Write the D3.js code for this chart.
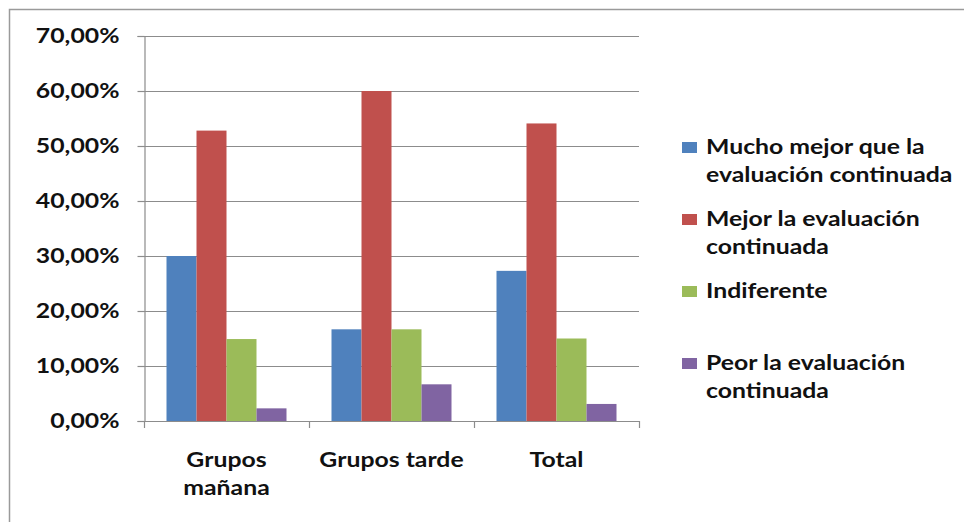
<!DOCTYPE html>
<html>
<head>
<meta charset="utf-8">
<script src="https://cdn.jsdelivr.net/npm/d3@7"></script>
<style>
  html, body { margin: 0; padding: 0; background: #ffffff; }
  svg { display: block; }
  text { font-family: Lato, "Open Sans", sans-serif; font-weight: bold; fill: #111111; }
</style>
</head>
<body>
<svg id="chart" width="964" height="522"></svg>
<script>
// Categories along the x axis
const categories = ["Grupos mañana", "Grupos tarde", "Total"];

// Series names (legend entries)
const seriesNames = [
  "Mucho mejor que la evaluación continuada",
  "Mejor la evaluación continuada",
  "Indiferente",
  "Peor la evaluación continuada"
];

// Values per series, one per category (fractions)
const muchoMejor = [0.300, 0.1667, 0.273];
const mejor      = [0.528, 0.600, 0.541];
const indiferente = [0.149, 0.1667, 0.150];
const peor       = [0.023, 0.0667, 0.031];

// Y axis tick values
const yTicks = [0, 0.1, 0.2, 0.3, 0.4, 0.5, 0.6, 0.7];

const seriesValues = [muchoMejor, mejor, indiferente, peor];
const colors = ["#4F81BD", "#C0504D", "#9BBB59", "#8064A2"];

// Horizontal widening applied to all text (wide, Calibri-like lettering)
const SX = 1.24;
const FONT_SIZE = 20;

const svg = d3.select("#chart");

// Outer chart frame (continues past the right and bottom edges)
svg.append("rect")
  .attr("x", 9.5).attr("y", 9.5)
  .attr("width", 1000).attr("height", 600)
  .attr("fill", "none").attr("stroke", "#9a9a9a").attr("stroke-width", 1.5);

const plot = { left: 144, right: 639, top: 36, bottom: 421 };

const y = d3.scaleLinear().domain([0, 0.7]).range([plot.bottom, plot.top]);
const x0 = d3.scaleBand().domain(categories).range([plot.left, plot.right]).padding(0);
// Bar gap of 150% of a bar width shared between both sides of each group
const gap = x0.bandwidth() * 1.5 / 5.5;
const x1 = d3.scaleBand().domain(d3.range(seriesNames.length))
  .range([gap / 2, x0.bandwidth() - gap / 2]).padding(0);

const locale = d3.formatLocale({ decimal: ",", thousands: ".", grouping: [3], currency: ["", "€"] });
const pct = locale.format(".2%");

// Horizontal gridlines
svg.append("g")
  .selectAll("line")
  .data(yTicks.slice(1))
  .join("line")
  .attr("x1", plot.left).attr("x2", plot.right)
  .attr("y1", d => Math.round(y(d)) + 0.5).attr("y2", d => Math.round(y(d)) + 0.5)
  .attr("stroke", "#8c8c8c").attr("stroke-width", 1.2);

// Bars
const groups = svg.append("g")
  .selectAll("g")
  .data(categories)
  .join("g")
  .attr("transform", d => `translate(${x0(d)},0)`);

groups.selectAll("rect")
  .data((d, ci) => seriesValues.map((vals, si) => ({ si, v: vals[ci] })))
  .join("rect")
  .attr("x", d => x1(d.si))
  .attr("width", x1.bandwidth())
  .attr("y", d => y(d.v))
  .attr("height", d => y(0) - y(d.v))
  .attr("fill", d => colors[d.si]);

// Y axis
const yAxis = svg.append("g")
  .attr("transform", `translate(${plot.left + 0.5},0)`)
  .call(d3.axisLeft(y).tickValues(yTicks).tickFormat(pct).tickSize(7).tickPadding(25));
yAxis.select(".domain").attr("stroke", "#8c8c8c").attr("stroke-width", 1.2);
yAxis.selectAll(".tick line").attr("stroke", "#8c8c8c").attr("stroke-width", 1.2);
yAxis.selectAll(".tick text")
  .attr("x", null)
  .attr("transform", `translate(-25,0) scale(${SX},1)`)
  .style("font-family", "Lato, sans-serif").style("font-weight", "bold")
  .style("font-size", FONT_SIZE + "px").attr("fill", "#111");

// X axis baseline and category boundary ticks
const xAxis = svg.append("g");
xAxis.append("line")
  .attr("x1", plot.left).attr("x2", plot.right)
  .attr("y1", plot.bottom + 0.5).attr("y2", plot.bottom + 0.5)
  .attr("stroke", "#8c8c8c").attr("stroke-width", 1.2);
const boundaries = categories.map(c => x0(c)).concat([x0.range()[1]]);
xAxis.selectAll("line.tick")
  .data(boundaries)
  .join("line")
  .attr("class", "tick")
  .attr("x1", d => Math.round(d) + 0.5).attr("x2", d => Math.round(d) + 0.5)
  .attr("y1", plot.bottom).attr("y2", plot.bottom + 7)
  .attr("stroke", "#8c8c8c").attr("stroke-width", 1.2);

// Word-wrap helper for SVG text (widths measured before the horizontal widening)
function wrap(textSel, maxWidth, lineHeight) {
  textSel.each(function () {
    const t = d3.select(this);
    const words = t.text().split(/\s+/);
    t.text(null);
    let line = [];
    let tspan = t.append("tspan").attr("x", 0).attr("dy", 0);
    for (const w of words) {
      line.push(w);
      tspan.text(line.join(" "));
      if (tspan.node().getComputedTextLength() > maxWidth && line.length > 1) {
        line.pop();
        tspan.text(line.join(" "));
        line = [w];
        tspan = t.append("tspan").attr("x", 0).attr("dy", lineHeight).text(w);
      }
    }
  });
}

// Category labels
svg.append("g")
  .selectAll("text")
  .data(categories)
  .join("text")
  .attr("transform", d => `translate(${x0(d) + x0.bandwidth() / 2},467) scale(${SX},1)`)
  .attr("text-anchor", "middle")
  .style("font-size", FONT_SIZE + "px")
  .text(d => d)
  .call(wrap, (x0.bandwidth() - 8) / SX, 28);

// Legend
const legend = svg.append("g").attr("transform", "translate(682,147)");
const items = legend.selectAll("g")
  .data(seriesNames)
  .join("g")
  .attr("transform", (d, i) => `translate(0,${i * 72})`);
items.append("rect")
  .attr("x", 0).attr("y", -5)
  .attr("width", 15).attr("height", 11)
  .attr("fill", (d, i) => colors[i]);
items.append("text")
  .attr("transform", `translate(24,7) scale(${SX},1)`)
  .style("font-size", FONT_SIZE + "px")
  .text(d => d)
  .call(wrap, 255 / SX, 28.5);
</script>
</body>
</html>
